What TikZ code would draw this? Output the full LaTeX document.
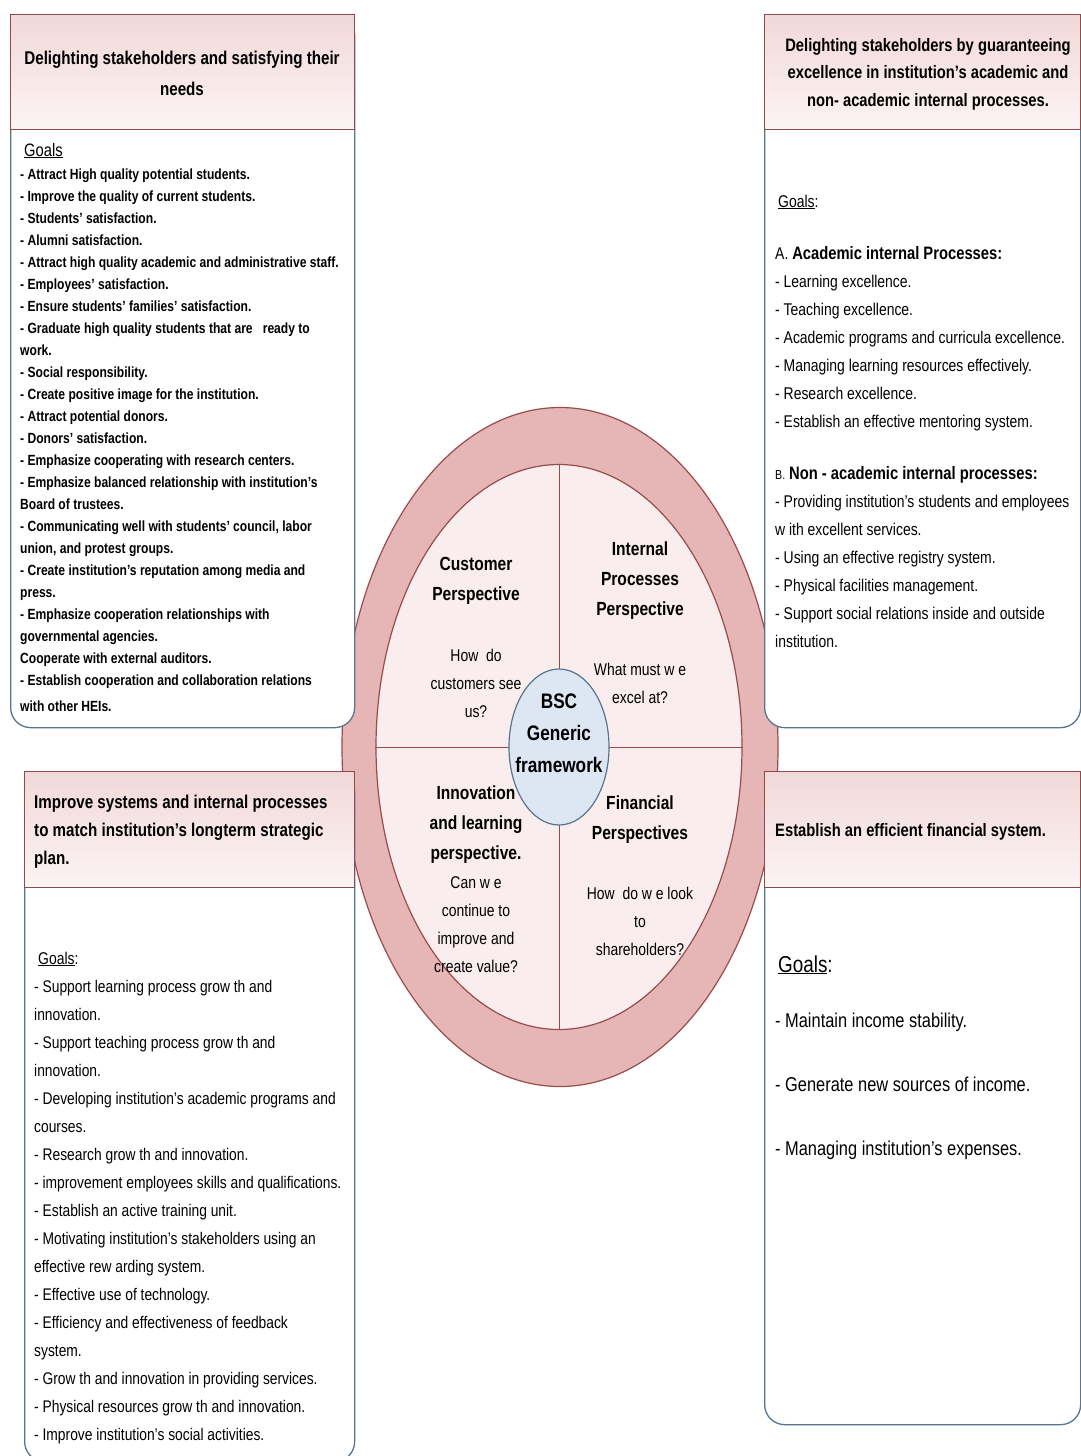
\documentclass[tikz,border=0pt]{standalone}
\usepackage{fontspec}
\setmainfont{Liberation Sans}[FakeStretch=0.82]
\usetikzlibrary{shapes.geometric}
\definecolor{hdrline}{HTML}{8E4B4B}
\definecolor{hdrtop}{HTML}{F2D8D8}
\definecolor{hdrbot}{HTML}{FCF4F4}
\definecolor{bodyline}{HTML}{587590}
\definecolor{ringfill}{HTML}{E6B6B6}
\definecolor{ringline}{HTML}{9A4B4B}
\definecolor{quadfill}{HTML}{F9EDED}
\definecolor{centerfill}{HTML}{DDE7F3}
\definecolor{centerline}{HTML}{587590}
\tikzset{
  hdr/.style={draw=hdrline, line width=1.3pt, top color=hdrtop, bottom color=hdrbot,
    anchor=north west, inner sep=0pt, rectangle},
  bodybox/.style={draw=bodyline, line width=1.3pt, fill=white, rounded corners=20pt,
    anchor=north west, inner sep=0pt, rectangle},
  txt/.style={anchor=base west, inner sep=0pt, align=left},
  ctxt/.style={anchor=base, inner sep=0pt, align=center},
  qtitle/.style={ctxt, font=\fontsize{19}{30}\selectfont\bfseries},
  qtext/.style={ctxt, font=\fontsize{17}{28}\selectfont},
}
\begin{document}
\begin{tikzpicture}[x=1pt,y=-1pt]
\useasboundingbox (0,0) rectangle (1081,1456);
\fill[white] (0,0) rectangle (1081,1456);

% ---- central BSC wheel ----
\node[ellipse, draw=ringline, line width=1.2pt, fill=ringfill, minimum width=436pt, minimum height=679pt, inner sep=0pt] (outer) at (560,747) {};
\node[ellipse, draw=ringline, line width=1.2pt, fill=quadfill, minimum width=366pt, minimum height=565pt, inner sep=0pt] (inner) at (559,747) {};
\draw[ringline, line width=1pt] (inner.north) -- (inner.south);
\draw[ringline, line width=1pt] (inner.west) -- (inner.east);
\node[ellipse, draw=centerline, line width=1.2pt, fill=centerfill, minimum width=100pt, minimum height=156pt, inner sep=0pt] (center) at (559,747) {};

% anchors are the baselines of the last lines
\node[qtitle] (custT) at (476,600) {Customer\\Perspective};
\node[qtext] (custQ) at (476,717) {How\ \ do\\customers see\\us?};
\node[qtitle] (intT) at (640,615) {Internal\\Processes\\Perspective};
\node[qtext] (intQ) at (640,703) {What must w e\\excel at?};
\node[qtitle] (innT) at (476,859) {Innovation\\and learning\\perspective.};
\node[qtext] (innQ) at (476,972) {Can w e\\continue to\\improve and\\create value?};
\node[qtitle] (finT) at (640,839) {Financial\\Perspectives};
\node[qtext] (finQ) at (640,955) {How\ \ do w e look\\to\\shareholders?};
\node[ctxt, font=\fontsize{21}{32}\selectfont\bfseries] (bsc) at (559,772) {BSC\\Generic\\framework};

% ---- top-left box ----
\node[bodybox, minimum width=344pt, minimum height=713pt] (tlbody) at (10,14) {};
\node[hdr, minimum width=344pt, minimum height=115pt] (tlhdr) at (10,14) {};
\node[ctxt, font=\fontsize{18.5}{31}\selectfont\bfseries] (tlhtext) at (182,95) {Delighting stakeholders and satisfying their\\needs};
\node[txt, font=\fontsize{18}{20}\selectfont] (tlgoals) at (24,156) {\underline{Goals}};
\node[txt, font=\fontsize{14.75}{21.96}\selectfont\bfseries] (tllist) at (20,685) {%
- Attract High quality potential students.\\
- Improve the quality of current students.\\
- Students' satisfaction.\\
- Alumni satisfaction.\\
- Attract high quality academic and administrative staff.\\
- Employees' satisfaction.\\
- Ensure students' families' satisfaction.\\
- Graduate high quality students that are\ \ \ ready to\\
work.\\
- Social responsibility.\\
- Create positive image for the institution.\\
- Attract potential donors.\\
- Donors' satisfaction.\\
- Emphasize cooperating with research centers.\\
- Emphasize balanced relationship with institution's\\
Board of trustees.\\
- Communicating well with students' council, labor\\
union, and protest groups.\\
- Create institution's reputation among media and\\
press.\\
- Emphasize cooperation relationships with\\
governmental agencies.\\
Cooperate with external auditors.\\
- Establish cooperation and collaboration relations};
\node[txt, font=\fontsize{14.75}{21.96}\selectfont\bfseries] (tllast) at (20,711) {with other HEIs.};

% ---- top-right box ----
\node[bodybox, minimum width=316pt, minimum height=713pt] (trbody) at (764,14) {};
\node[hdr, minimum width=316pt, minimum height=115pt] (trhdr) at (764,14) {};
\node[ctxt, font=\fontsize{18}{27.5}\selectfont\bfseries] (trhtext) at (928,106) {Delighting stakeholders by guaranteeing\\excellence in institution's academic and\\non- academic internal processes.};
\node[txt, font=\fontsize{17}{20}\selectfont] (trgoals) at (778,207) {\underline{Goals}:};
\node[txt, font=\fontsize{17}{28}\selectfont] (trA) at (775,427) {%
A. {\fontsize{18}{28}\selectfont\bfseries Academic internal Processes:}\\
- Learning excellence.\\
- Teaching excellence.\\
- Academic programs and curricula excellence.\\
- Managing learning resources effectively.\\
- Research excellence.\\
- Establish an effective mentoring system.};
\node[txt, font=\fontsize{17}{28}\selectfont] (trB) at (775,647) {%
{\fontsize{13}{28}\selectfont B.} {\fontsize{18}{28}\selectfont\bfseries Non - academic internal processes:}\\
- Providing institution's students and employees\\
w ith excellent services.\\
- Using an effective registry system.\\
- Physical facilities management.\\
- Support social relations inside and outside\\
institution.};

% ---- bottom-left box ----
\node[bodybox, minimum width=330pt, minimum height=690pt] (blbody) at (24,771) {};
\node[hdr, minimum width=330pt, minimum height=116pt] (blhdr) at (24,771) {};
\node[txt, font=\fontsize{18.5}{28}\selectfont\bfseries] (blhtext) at (34,864) {Improve systems and internal processes\\to match institution's longterm strategic\\plan.};
\node[txt, font=\fontsize{17}{20}\selectfont] (blgoals) at (38,964) {\underline{Goals}:};
\node[txt, font=\fontsize{16.85}{28}\selectfont] (bllist) at (34,1440) {%
- Support learning process grow th and\\
innovation.\\
- Support teaching process grow th and\\
innovation.\\
- Developing institution's academic programs and\\
courses.\\
- Research grow th and innovation.\\
- improvement employees skills and qualifications.\\
- Establish an active training unit.\\
- Motivating institution's stakeholders using an\\
effective rew arding system.\\
- Effective use of technology.\\
- Efficiency and effectiveness of feedback\\
system.\\
- Grow th and innovation in providing services.\\
- Physical resources grow th and innovation.\\
- Improve institution's social activities.};

% ---- bottom-right box ----
\node[bodybox, minimum width=316pt, minimum height=653pt] (brbody) at (764,771) {};
\node[hdr, minimum width=316pt, minimum height=116pt] (brhdr) at (764,771) {};
\node[txt, font=\fontsize{18}{20}\selectfont\bfseries] (brhtext) at (775,836) {Establish an efficient financial system.};
\node[txt, font=\fontsize{23}{26}\selectfont] (brgoals) at (778,972) {\underline{Goals}:};
\node[txt, font=\fontsize{20}{64}\selectfont] (brlist) at (775,1155) {%
- Maintain income stability.\\
- Generate new sources of income.\\
- Managing institution's expenses.};
\end{tikzpicture}
\end{document}
